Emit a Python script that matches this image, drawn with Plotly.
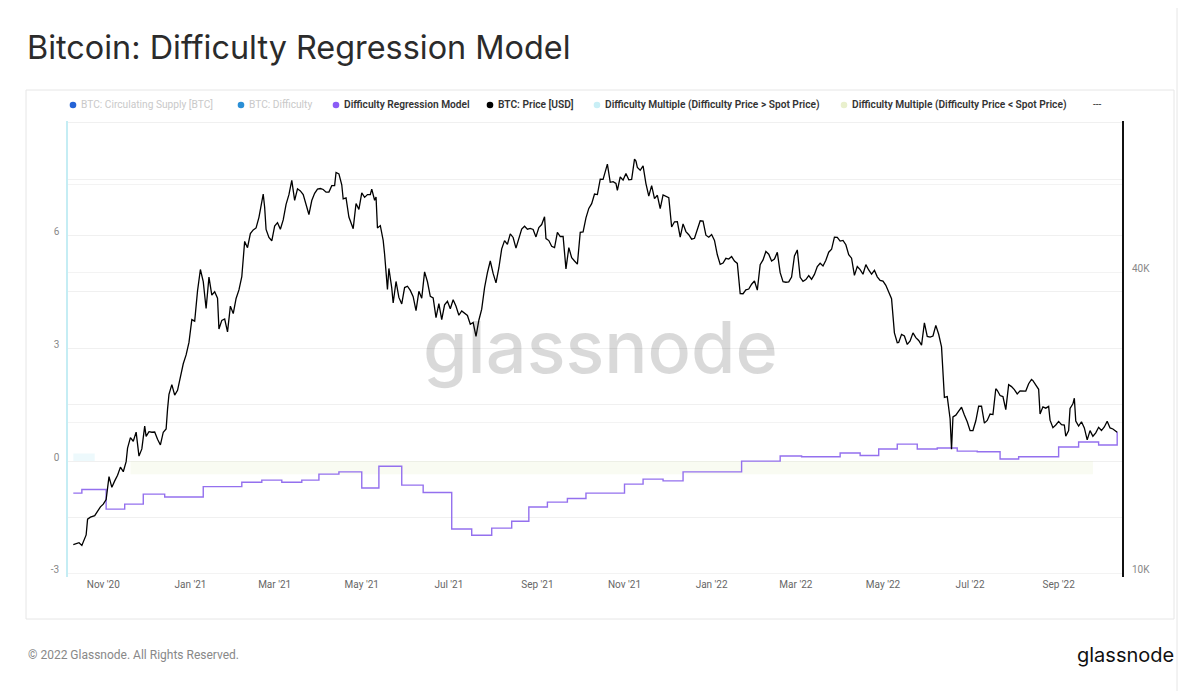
import plotly.graph_objects as go

# ---------------- data ----------------
price_dates = [
"2020-10-11","2020-10-13","2020-10-15","2020-10-17","2020-10-19","2020-10-20","2020-10-21","2020-10-23","2020-10-26","2020-10-28","2020-10-30",
"2020-11-01","2020-11-03","2020-11-05","2020-11-07","2020-11-09","2020-11-11","2020-11-13","2020-11-15","2020-11-17","2020-11-18","2020-11-20",
"2020-11-22","2020-11-24","2020-11-26","2020-11-28","2020-11-30","2020-12-01","2020-12-03","2020-12-05","2020-12-07","2020-12-09","2020-12-11",
"2020-12-13","2020-12-15","2020-12-16","2020-12-17","2020-12-19","2020-12-21","2020-12-23","2020-12-25","2020-12-27","2020-12-29","2020-12-31",
"2021-01-02","2021-01-04","2021-01-06","2021-01-08","2021-01-10","2021-01-11","2021-01-12","2021-01-14","2021-01-16","2021-01-18","2021-01-20",
"2021-01-21","2021-01-23","2021-01-25","2021-01-27","2021-01-29","2021-01-31","2021-02-02","2021-02-04","2021-02-06","2021-02-08","2021-02-10",
"2021-02-12","2021-02-14","2021-02-16","2021-02-18","2021-02-20","2021-02-21","2021-02-22","2021-02-23","2021-02-25","2021-02-27","2021-03-01",
"2021-03-03","2021-03-05","2021-03-07","2021-03-09","2021-03-11","2021-03-13","2021-03-15","2021-03-17","2021-03-19","2021-03-21","2021-03-23",
"2021-03-25","2021-03-27","2021-03-29","2021-03-31","2021-04-02","2021-04-04","2021-04-06","2021-04-08","2021-04-10","2021-04-12","2021-04-13",
"2021-04-15","2021-04-17","2021-04-18","2021-04-20","2021-04-22","2021-04-24","2021-04-25","2021-04-27","2021-04-29","2021-05-01","2021-05-03",
"2021-05-05","2021-05-07","2021-05-08","2021-05-10","2021-05-11","2021-05-12","2021-05-14","2021-05-16","2021-05-17","2021-05-19","2021-05-20",
"2021-05-22","2021-05-23","2021-05-25","2021-05-27","2021-05-29","2021-05-31","2021-06-02","2021-06-04","2021-06-06","2021-06-08","2021-06-10",
"2021-06-12","2021-06-14","2021-06-16","2021-06-18","2021-06-20","2021-06-22","2021-06-24","2021-06-26","2021-06-28","2021-06-30","2021-07-02",
"2021-07-04","2021-07-06","2021-07-08","2021-07-10","2021-07-12","2021-07-14","2021-07-16","2021-07-18","2021-07-20","2021-07-22","2021-07-24",
"2021-07-26","2021-07-28","2021-07-30","2021-08-01","2021-08-03","2021-08-05","2021-08-07","2021-08-09","2021-08-11","2021-08-13","2021-08-15",
"2021-08-17","2021-08-19","2021-08-21","2021-08-23","2021-08-25","2021-08-27","2021-08-29","2021-08-31","2021-09-02","2021-09-04","2021-09-06",
"2021-09-07","2021-09-09","2021-09-11","2021-09-13","2021-09-15","2021-09-17","2021-09-19","2021-09-20","2021-09-21","2021-09-23","2021-09-25",
"2021-09-27","2021-09-29","2021-10-01","2021-10-03","2021-10-05","2021-10-07","2021-10-09","2021-10-11","2021-10-13","2021-10-15","2021-10-17",
"2021-10-19","2021-10-20","2021-10-22","2021-10-24","2021-10-26","2021-10-27","2021-10-29","2021-10-31","2021-11-02","2021-11-04","2021-11-06",
"2021-11-08","2021-11-09","2021-11-10","2021-11-12","2021-11-14","2021-11-16","2021-11-18","2021-11-20","2021-11-22","2021-11-24","2021-11-26",
"2021-11-28","2021-11-30","2021-12-02","2021-12-04","2021-12-06","2021-12-08","2021-12-10","2021-12-12","2021-12-14","2021-12-16","2021-12-18",
"2021-12-20","2021-12-22","2021-12-24","2021-12-26","2021-12-28","2021-12-30","2022-01-01","2022-01-03","2022-01-05","2022-01-07","2022-01-09",
"2022-01-11","2022-01-13","2022-01-15","2022-01-17","2022-01-19","2022-01-21","2022-01-23","2022-01-25","2022-01-27","2022-01-29","2022-01-31",
"2022-02-02","2022-02-04","2022-02-06","2022-02-08","2022-02-10","2022-02-12","2022-02-14","2022-02-16","2022-02-18","2022-02-20","2022-02-22",
"2022-02-24","2022-02-26","2022-02-28","2022-03-02","2022-03-04","2022-03-06","2022-03-08","2022-03-10","2022-03-12","2022-03-14","2022-03-16",
"2022-03-18","2022-03-20","2022-03-22","2022-03-24","2022-03-26","2022-03-28","2022-03-30","2022-04-01","2022-04-03","2022-04-05","2022-04-07",
"2022-04-09","2022-04-11","2022-04-13","2022-04-15","2022-04-17","2022-04-19","2022-04-21","2022-04-23","2022-04-25","2022-04-27","2022-04-29",
"2022-05-01","2022-05-03","2022-05-05","2022-05-07","2022-05-09","2022-05-11","2022-05-12","2022-05-14","2022-05-16","2022-05-18","2022-05-20",
"2022-05-22","2022-05-24","2022-05-26","2022-05-28","2022-05-30","2022-06-01","2022-06-03","2022-06-05","2022-06-07","2022-06-09","2022-06-11",
"2022-06-13","2022-06-15","2022-06-17","2022-06-18","2022-06-19","2022-06-21","2022-06-23","2022-06-25","2022-06-27","2022-06-29","2022-07-01",
"2022-07-03","2022-07-05","2022-07-07","2022-07-09","2022-07-11","2022-07-13","2022-07-15","2022-07-17","2022-07-19","2022-07-20","2022-07-22",
"2022-07-24","2022-07-26","2022-07-28","2022-07-30","2022-08-01","2022-08-03","2022-08-05","2022-08-07","2022-08-09","2022-08-11","2022-08-13",
"2022-08-14","2022-08-16","2022-08-18","2022-08-19","2022-08-21","2022-08-23","2022-08-25","2022-08-26","2022-08-28","2022-08-30","2022-09-01",
"2022-09-03","2022-09-05","2022-09-06","2022-09-08","2022-09-09","2022-09-11","2022-09-12","2022-09-13","2022-09-15","2022-09-17","2022-09-19",
"2022-09-21","2022-09-23","2022-09-25","2022-09-27","2022-09-29","2022-10-01","2022-10-03","2022-10-05","2022-10-07","2022-10-09","2022-10-12",
]
price_usd = [
11400,11430,11500,11360,11750,11920,12820,12940,13030,13290,13570,
13740,14030,15600,14850,15300,15700,16300,15960,16720,17800,18680,
18370,19160,17150,17730,19700,18790,19200,19150,19170,18540,18060,
19150,19440,21310,22800,23850,22720,23240,24700,26270,27360,28990,
32200,31970,36770,40580,38360,35560,33900,39180,36070,36630,35550,
30830,32090,32290,30430,34270,33110,35510,36930,39260,46200,44880,
47910,48720,49170,51640,55930,57490,54090,48830,47060,46340,49600,
50370,48880,51020,54820,57330,61240,55850,58910,58330,57350,54530,
52300,55800,57680,58800,58970,58720,57980,58000,59770,59780,63500,
63100,60000,56200,56460,51700,50100,49000,55030,53560,57800,56620,
57350,57360,58800,55860,56700,49150,49700,46430,43540,37000,40780,
37280,34770,38400,35680,34620,37340,37570,36850,35800,33570,36690,
35550,40140,38350,35840,35600,32510,34660,32190,34480,35040,33860,
35290,34240,32860,33510,33120,32820,31530,31780,29790,32110,33800,
37340,39990,42210,39850,38150,40870,44630,46370,45590,47830,47050,
44800,46770,48900,49550,48890,49070,48830,47170,49270,49940,51760,
46820,46380,45170,44900,48150,47260,47290,43010,40700,44900,42840,
42200,41600,48200,48270,51500,53800,55000,57490,57360,61600,61530,
64300,66000,60700,60860,60360,58500,62200,61320,63230,61400,61530,
67550,66950,64990,64160,65470,60340,56940,59760,56280,57160,53730,
57270,56910,56520,49370,50580,50600,47100,50100,48340,47640,46670,
46880,48600,50820,50750,47540,47100,47690,46420,43430,41550,41800,
42730,42590,43080,42210,41740,36300,36290,36950,37080,37920,38480,
36900,41500,42410,44100,43560,42200,42590,43950,40000,38360,38270,
38330,39200,43190,44420,39150,38420,38740,39440,38800,39670,41140,
41770,41260,42360,43960,44550,47130,47060,46280,46410,45500,43450,
42760,39500,41150,40560,39700,41500,40500,39740,40430,39230,38600,
38470,37720,36550,35470,30300,28940,28990,30080,29860,28720,29180,
30290,29640,29250,28620,31730,29800,29700,29860,31360,30100,28400,
22490,22570,20380,17700,20550,20720,21100,21490,20730,20100,19290,
19300,20190,21600,21590,19970,20220,20830,20780,23400,23240,22680,
22580,21250,23850,23640,23320,22850,23180,23180,23160,23950,24440,
24300,23860,23350,20830,21530,21400,21570,20250,19560,19800,20130,
19830,19800,18800,19300,21370,21830,22400,20170,19700,20100,19540,
18490,19290,18800,19090,19590,19300,19620,20150,19530,19440,19150,
]

model_dates = [
"2020-10-11","2020-10-17","2020-11-03","2020-11-16","2020-11-29","2020-12-14","2021-01-10","2021-02-06","2021-02-20","2021-03-06",
"2021-03-20","2021-04-01","2021-04-15","2021-05-01","2021-05-13","2021-05-29","2021-06-13","2021-07-03","2021-07-17","2021-07-31",
"2021-08-14","2021-08-26","2021-09-08","2021-09-22","2021-10-05","2021-11-01","2021-11-14","2021-11-28","2021-12-12","2022-01-22",
"2022-02-18","2022-03-05","2022-04-01","2022-04-15","2022-04-28","2022-05-11","2022-05-25","2022-06-08","2022-06-22","2022-07-06",
"2022-07-22","2022-08-04","2022-09-01","2022-09-15","2022-09-29","2022-10-12",
]
model_usd = [
14460,14700,13430,13740,14390,14200,14900,15200,15350,15200,
15350,15780,15950,14800,16370,15000,14500,12250,11900,12300,
12700,13560,13870,14100,14460,15070,15420,15300,15950,16760,
17160,17100,17400,17200,17720,18130,17720,17800,17550,17500,
16930,17100,17890,18300,18060,19170,
]

# Difficulty multiple bands (very faint in the reference)
mult_hi_dates = ["2020-10-11", "2020-10-26"]
mult_hi_vals = [0.2, 0.2]
mult_lo_dates = ["2020-11-20", "2022-09-25"]
mult_lo_vals = [-0.35, -0.35]

left_ticks = [-3, -1.5, 0, 1.5, 3, 4.5, 6, 7.5, 9]
left_ticktext = ["-3", "", "0", "", "3", "", "6", "", ""]
right_ticks = [10000, 20000, 40000, 60000]
right_ticktext = ["10K", "", "40K", ""]

legend_items = [
    ("BTC: Circulating Supply [BTC]", "#2463d6", "#c9c9c9", False),
    ("BTC: Difficulty", "#2a8fd6", "#c9c9c9", False),
    ("Difficulty Regression Model", "#8b5cf6", "#333333", True),
    ("BTC: Price [USD]", "#000000", "#333333", True),
    ("Difficulty Multiple (Difficulty Price > Spot Price)", "#c9eff6", "#333333", True),
    ("Difficulty Multiple (Difficulty Price < Spot Price)", "#e9f0cd", "#333333", True),
]
legend_dot_x = [73, 241, 336, 490, 597, 844]

# ---------------- layout geometry ----------------
# The page body adds an 8px margin, so the figure is drawn 8px smaller and
# every target pixel position is shifted by OFF.
OFF = 8
W, H = 1200 - OFF, 691 - OFF
L, R, T, B = 68 - OFF, 1122 - OFF, 121 - OFF, 577 - OFF


def px(x):
    return (x - OFF - L) / (R - L)


def py(y):
    return (B - (y - OFF)) / (B - T)


fig = go.Figure()

fig.add_trace(go.Scatter(x=mult_lo_dates, y=mult_lo_vals, mode="lines", line=dict(width=0),
                         fill="tozeroy", fillcolor="rgba(226,238,196,0.22)", yaxis="y",
                         showlegend=False, hoverinfo="skip"))
fig.add_trace(go.Scatter(x=mult_hi_dates, y=mult_hi_vals, mode="lines", line=dict(width=0),
                         fill="tozeroy", fillcolor="rgba(196,236,245,0.3)", yaxis="y",
                         showlegend=False, hoverinfo="skip"))
fig.add_trace(go.Scatter(x=model_dates, y=model_usd, mode="lines", line=dict(color="#9470ee", width=1.4, shape="hv"),
                         yaxis="y2", name="Difficulty Regression Model", showlegend=False))
fig.add_trace(go.Scatter(x=price_dates, y=price_usd, mode="lines", line=dict(color="#000000", width=1.3),
                         yaxis="y2", name="BTC: Price [USD]", showlegend=False))

shapes = []
line_col = "#e6e6e6"
# page borders
shapes.append(dict(type="line", xref="paper", yref="paper", x0=px(3), x1=px(3), y0=py(8), y1=py(691),
                   line=dict(color=line_col, width=1)))
shapes.append(dict(type="line", xref="paper", yref="paper", x0=px(1177), x1=px(1177), y0=py(8), y1=py(691),
                   line=dict(color=line_col, width=1)))
# inner chart box
shapes.append(dict(type="rect", xref="paper", yref="paper", x0=px(26), x1=px(1174), y0=py(90), y1=py(619),
                   line=dict(color=line_col, width=1), layer="below"))

annotations = []
# legend
for (label, dot, tcol, active), dx in zip(legend_items, legend_dot_x):
    r = 3.3
    shapes.append(dict(type="circle", xref="paper", yref="paper", x0=px(dx - r), x1=px(dx + r),
                       y0=py(105 + r), y1=py(105 - r), fillcolor=dot, line=dict(width=0)))
    annotations.append(dict(xref="paper", yref="paper", x=px(dx + 6), y=py(105), xanchor="left", yanchor="middle",
                            text=label, showarrow=False,
                            font=dict(family="Roboto", size=10.2, color=tcol, weight=600 if active else 400)))
annotations.append(dict(xref="paper", yref="paper", x=px(1091), y=py(105), xanchor="left", yanchor="middle",
                        text="---", showarrow=False, font=dict(family="Roboto", size=10, color="#333")))
# title
annotations.append(dict(xref="paper", yref="paper", x=px(25), y=py(47), xanchor="left", yanchor="middle",
                        text="Bitcoin: Difficulty Regression Model", showarrow=False,
                        font=dict(family="Inter", size=32.4, color="#2b2b2b")))
# footer
annotations.append(dict(xref="paper", yref="paper", x=px(26), y=py(655), xanchor="left", yanchor="middle",
                        text="© 2022 Glassnode. All Rights Reserved.", showarrow=False,
                        font=dict(family="Roboto", size=12, color="#888888")))
annotations.append(dict(xref="paper", yref="paper", x=px(1176), y=py(655), xanchor="right", yanchor="middle",
                        text="glassnode", showarrow=False,
                        font=dict(family="Inter", size=20, color="#111111", weight=400)))
# watermark
annotations.append(dict(xref="paper", yref="paper", x=px(600), y=py(346), xanchor="center", yanchor="middle",
                        text="glassnode", showarrow=False,
                        font=dict(family="Inter", size=72, color="rgba(0,0,0,0.15)", weight=500)))

fig.update_layout(
    width=W, height=H,
    margin=dict(l=L, r=W - R, t=T, b=H - B),
    paper_bgcolor="white", plot_bgcolor="white",
    showlegend=False,
    shapes=shapes, annotations=annotations,
    xaxis=dict(type="date", range=["2020-10-07 07:00", "2022-10-15 09:00"],
               tick0="2020-11-01", dtick="M2", tickformat="%b '%y",
               showgrid=False, zeroline=False, showline=False, ticks="",
               tickfont=dict(family="Roboto", size=10, color="#666666")),
    yaxis=dict(range=[-3.085, 9.043], tickvals=left_ticks, ticktext=left_ticktext,
               showgrid=True, gridcolor="#f0f0f0", gridwidth=1, zeroline=False,
               showline=True, linecolor="#c5edf4", linewidth=1.5, ticks="",
               ticklabelshift=-4, ticklabelstandoff=5,
               tickfont=dict(family="Roboto", size=10, color="#888888")),
    yaxis2=dict(type="log", range=[3.992, 4.906], overlaying="y", side="right",
                tickvals=right_ticks, ticktext=right_ticktext,
                showgrid=True, gridcolor="#f3f3f3", gridwidth=1, zeroline=False,
                showline=True, linecolor="#111111", linewidth=2, ticks="",
                ticklabelshift=-4, ticklabelstandoff=6,
                tickfont=dict(family="Roboto", size=10, color="#888888")),
)

fig.write_html("out.html")
